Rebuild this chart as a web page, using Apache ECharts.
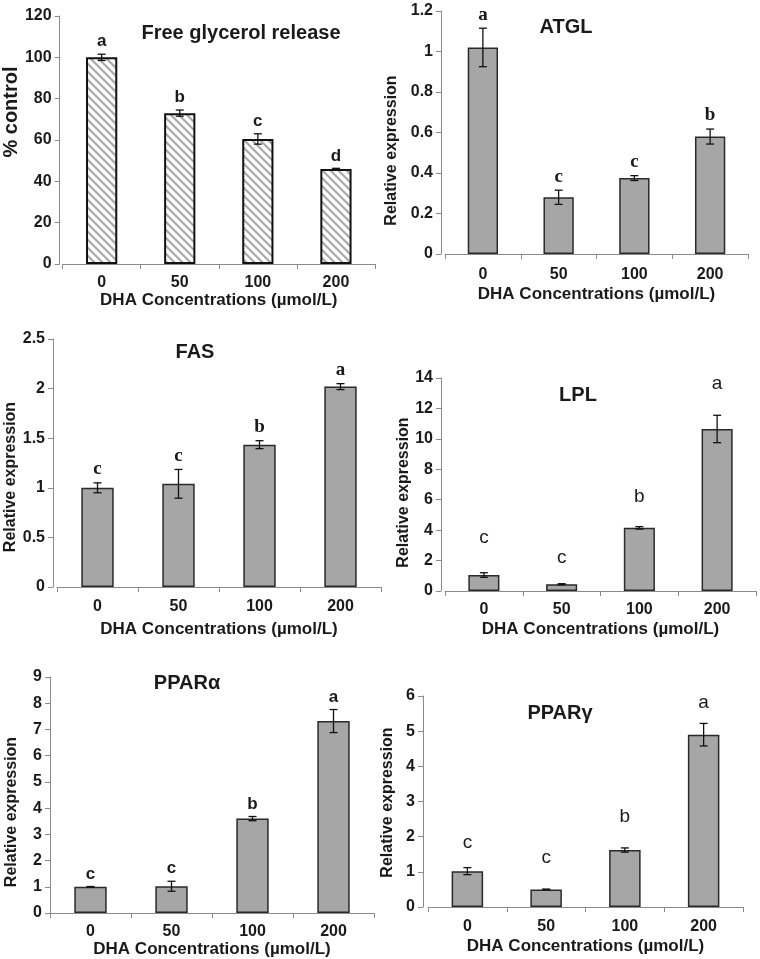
<!DOCTYPE html>
<html><head><meta charset="utf-8">
<script src="https://cdn.jsdelivr.net/npm/echarts@6/dist/echarts.min.js"></script>
<style>html,body{margin:0;padding:0;background:#fff}#c{width:760px;height:959px}</style>
</head><body><div id="c"></div>
<script>
// ---- data ----
const categories = ['0', '50', '100', '200'];
const xTitle = 'DHA Concentrations (µmol/L)';

const glycerolMean = [100, 73, 60.5, 46];
const glycerolErr = [1.5, 1.5, 2.5, 0.3];
const glycerolLetters = ['a', 'b', 'c', 'd'];

const atglMean = [1.02, 0.28, 0.375, 0.58];
const atglErr = [0.095, 0.035, 0.012, 0.037];
const atglLetters = ['a', 'c', 'c', 'b'];

const fasMean = [1.0, 1.04, 1.435, 2.02];
const fasErr = [0.05, 0.145, 0.04, 0.03];
const fasLetters = ['c', 'c', 'b', 'a'];

const lplMean = [1.05, 0.45, 4.15, 10.65];
const lplErr = [0.15, 0.03, 0.08, 0.9];
const lplLetters = ['c', 'c', 'b', 'a'];
const lplLetterY = [3.5, 2.2, 6.2, 13.6];

const pparaMean = [1.0, 1.02, 3.6, 7.32];
const pparaErr = [0.01, 0.19, 0.08, 0.44];
const pparaLetters = ['c', 'c', 'b', 'a'];

const ppargMean = [1.02, 0.5, 1.62, 4.9];
const ppargErr = [0.1, 0.01, 0.06, 0.32];
const ppargLetters = ['c', 'c', 'b', 'a'];
const ppargLetterY = [1.82, 1.39, 2.56, 5.8];

const yMaxes = [120, 1.2, 2.5, 14, 9, 6];
const ySteps = [20, 0.2, 0.5, 2, 1, 1];
const titles = ['Free glycerol release', 'ATGL', 'FAS', 'LPL', 'PPARα', 'PPARγ'];
const yNames = ['% control', 'Relative expression', 'Relative expression', 'Relative expression', 'Relative expression', 'Relative expression'];

// ---- layout / style ----
const SANS = '"Liberation Sans", Arial, sans-serif';
const SERIF = '"Liberation Serif", "Times New Roman", serif';

function hatch() {
  const n = 8;
  const c = document.createElement('canvas');
  c.width = c.height = n;
  const g = c.getContext('2d');
  g.fillStyle = '#fff'; g.fillRect(0, 0, n, n);
  g.strokeStyle = '#a9a9a9'; g.lineWidth = 2.2;
  g.beginPath();
  g.moveTo(-2, -2); g.lineTo(n + 2, n + 2);
  g.moveTo(-n - 2, -2); g.lineTo(2, n + 2);
  g.moveTo(n - 2, -2); g.lineTo(2 * n + 2, n + 2);
  g.stroke();
  return c;
}

// yShift: vertical shift (px, + = down) of the y-axis title from the grid middle
const panels = [
  { mean: glycerolMean, err: glycerolErr, letters: glycerolLetters, letterY: null,
    grid: { left: 55, top: 16, width: 320, height: 248 }, yOff: 3,
    xLab: 11, xName: 24, yName: 30, yNameSize: 20, yShift: -28, hatch: true,
    letterFont: 'bold 17px ' + SANS, title: [241, 33] },
  { mean: atglMean, err: atglErr, letters: atglLetters, letterY: null,
    grid: { left: 445, top: 11, width: 303, height: 243 }, yOff: 4,
    xLab: 13, xName: 32, yName: 41, yNameSize: 16, yShift: 18,
    letterFont: 'bold 19px ' + SERIF, title: [566, 27] },
  { mean: fasMean, err: fasErr, letters: fasLetters, letterY: null,
    grid: { left: 57, top: 339, width: 324, height: 248 }, yOff: 4,
    xLab: 12, xName: 34, yName: 33, yNameSize: 16, yShift: 14,
    letterFont: 'bold 19px ' + SERIF, title: [195, 352] },
  { mean: lplMean, err: lplErr, letters: lplLetters, letterY: lplLetterY,
    grid: { left: 445, top: 378, width: 311, height: 213 }, yOff: 4,
    xLab: 11, xName: 30, yName: 25, yNameSize: 16, yShift: 8,
    letterFont: '19px ' + SANS, title: [578, 395] },
  { mean: pparaMean, err: pparaErr, letters: pparaLetters, letterY: null,
    grid: { left: 50, top: 677, width: 324, height: 236 }, yOff: 0,
    xLab: 11, xName: 26, yName: 30, yNameSize: 16, yShift: 17,
    letterFont: 'bold 17px ' + SANS, title: [187, 683] },
  { mean: ppargMean, err: ppargErr, letters: ppargLetters, letterY: ppargLetterY,
    grid: { left: 428, top: 696, width: 315, height: 211 }, yOff: 5,
    xLab: 12, xName: 31, yName: 27, yNameSize: 16, yShift: 1,
    letterFont: '19px ' + SANS, title: [560, 713] }
];

const axisColor = '#8a8a8a';
const textColor = '#1a1a1a';
const grids = [], xAxes = [], yAxes = [], series = [], graphics = [];

panels.forEach((p, k) => {
  grids.push(p.grid);
  xAxes.push({
    type: 'category', gridIndex: k, data: categories,
    axisLine: { lineStyle: { color: axisColor, width: 1 } },
    axisTick: { show: true, length: 5, lineStyle: { color: axisColor } },
    axisLabel: { fontSize: 16, fontWeight: 'bold', color: textColor, fontFamily: SANS, margin: p.xLab },
    name: xTitle, nameLocation: 'middle', nameGap: p.xName,
    nameTextStyle: { fontSize: 17, fontWeight: 'bold', color: textColor, fontFamily: SANS }
  });
  const sh = p.yShift;
  yAxes.push({
    type: 'value', gridIndex: k, min: 0, max: yMaxes[k], interval: ySteps[k], offset: p.yOff,
    axisLine: { show: true, lineStyle: { color: axisColor, width: 1 } },
    axisTick: { show: true, length: 5, lineStyle: { color: axisColor } },
    splitLine: { show: false },
    axisLabel: { fontSize: 16, fontWeight: 'bold', color: textColor, fontFamily: SANS, margin: 8 },
    name: yNames[k], nameLocation: 'middle', nameGap: p.yName, nameRotate: 90,
    nameTextStyle: {
      fontSize: p.yNameSize, fontWeight: 'bold', color: textColor, fontFamily: SANS,
      padding: sh >= 0 ? [0, 2 * sh, 0, 0] : [0, 0, 0, -2 * sh]
    }
  });
  series.push({
    type: 'bar', xAxisIndex: k, yAxisIndex: k, barWidth: '40%',
    data: p.mean,
    itemStyle: p.hatch
      ? { color: { image: hatch(), repeat: 'repeat' }, borderColor: '#111', borderWidth: 2 }
      : { color: '#a6a6a6', borderColor: '#2a2a2a', borderWidth: 1.5 },
    silent: true, animation: false
  });
  series.push({
    type: 'custom', xAxisIndex: k, yAxisIndex: k, z: 5, animation: false, silent: true,
    encode: { x: 0, y: 1 },
    data: p.mean.map((m, i) => [i, m, p.err[i]]),
    renderItem: (params, api) => {
      const i = api.value(0), m = api.value(1), e = api.value(2);
      const t = api.coord([i, m + e]);
      const b = api.coord([i, m - e]);
      const x = t[0], cap = 4;
      const st = { stroke: '#111', lineWidth: 1.3 };
      const children = [
        { type: 'line', shape: { x1: x, y1: t[1], x2: x, y2: b[1] }, style: st },
        { type: 'line', shape: { x1: x - cap, y1: t[1], x2: x + cap, y2: t[1] }, style: st },
        { type: 'line', shape: { x1: x - cap, y1: b[1], x2: x + cap, y2: b[1] }, style: st }
      ];
      let ly, va;
      if (p.letterY) { ly = api.coord([i, p.letterY[i]])[1]; va = 'middle'; }
      else { ly = t[1] - 4; va = 'bottom'; }
      children.push({ type: 'text', style: { text: p.letters[i], x: x, y: ly, align: 'center', verticalAlign: va, font: p.letterFont, fill: textColor } });
      return { type: 'group', children };
    }
  });
  graphics.push({
    type: 'text', x: p.title[0], y: p.title[1], silent: true,
    style: { text: titles[k], align: 'center', verticalAlign: 'middle', font: 'bold 20px ' + SANS, fill: textColor }
  });
});

const chart = echarts.init(document.getElementById('c'), null, { renderer: 'canvas' });
chart.setOption({
  animation: false,
  backgroundColor: '#fff',
  grid: grids, xAxis: xAxes, yAxis: yAxes, series: series,
  graphic: graphics
});
</script></body></html>
